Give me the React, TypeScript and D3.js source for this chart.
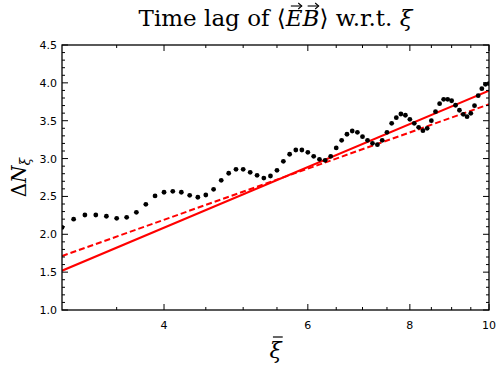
import React, { useLayoutEffect, useRef, useState } from "react";
import * as d3 from "d3";

const xiValues = [
  3.0, 3.1, 3.2, 3.3, 3.4, 3.5, 3.6, 3.7, 3.8, 3.9,
  4.0, 4.1, 4.2, 4.3, 4.4, 4.5, 4.6, 4.7, 4.8, 4.9,
  5.0, 5.1, 5.2, 5.3, 5.4, 5.5, 5.6, 5.7, 5.8, 5.9,
  6.0, 6.1, 6.2, 6.3, 6.4, 6.5, 6.6, 6.7, 6.8, 6.9,
  7.0, 7.1, 7.2, 7.3, 7.4, 7.5, 7.6, 7.7, 7.8, 7.9,
  8.0, 8.1, 8.2, 8.3, 8.4, 8.5, 8.6, 8.7, 8.8, 8.9,
  9.0, 9.1, 9.2, 9.3, 9.4, 9.5, 9.6, 9.7, 9.8, 9.9,
  10.0,
];
const lagValues = [
  2.09, 2.20, 2.255, 2.255, 2.238, 2.211, 2.224, 2.29, 2.396, 2.506,
  2.555, 2.568, 2.555, 2.515, 2.489, 2.519, 2.594, 2.713, 2.806, 2.858,
  2.858, 2.819, 2.779, 2.743, 2.77, 2.845, 2.964, 3.057, 3.113, 3.113,
  3.083, 3.03, 2.99, 2.977, 3.03, 3.14, 3.241, 3.321, 3.364, 3.347,
  3.289, 3.241, 3.202, 3.183, 3.241, 3.347, 3.466, 3.54, 3.589, 3.572,
  3.519, 3.466, 3.413, 3.368, 3.40, 3.50, 3.619, 3.725, 3.783, 3.783,
  3.764, 3.704, 3.638, 3.585, 3.553, 3.598, 3.698, 3.831, 3.923, 3.981,
  3.99,
];
// fit lines (endpoints)
const solidFitX = [3, 10];
const solidFitY = [1.519, 3.897];
const dashedFitX = [3, 10];
const dashedFitY = [1.713, 3.717];

const xMajorTicks = [4, 6, 8, 10];
const xMinorTicks = [3.5, 4.5, 5, 5.5, 6.5, 7, 7.5, 8.5, 9, 9.5];
const yMajorTicks = [1.0, 1.5, 2.0, 2.5, 3.0, 3.5, 4.0, 4.5];

const W = 498;
const H = 370;
const M = { left: 62, right: 9, top: 45, bottom: 60 };

type Box = { x: number; y: number; width: number; height: number };

export default function App() {
  const x = d3.scaleLog().domain([3, 10]).range([M.left, W - M.right]);
  const y = d3.scaleLinear().domain([1.0, 4.5]).range([H - M.bottom, M.top]);
  const yMinor = d3
    .range(10, 46)
    .map((v) => v / 10)
    .filter((v) => Math.abs(v * 2 - Math.round(v * 2)) > 1e-6);

  const line = d3
    .line<[number, number]>()
    .x((d) => x(d[0]))
    .y((d) => y(d[1]));
  const solid = solidFitX.map((v, i) => [v, solidFitY[i]] as [number, number]);
  const dashed = dashedFitX.map((v, i) => [v, dashedFitY[i]] as [number, number]);

  const x0 = M.left, x1 = W - M.right, y0 = H - M.bottom, y1 = M.top;
  const tickFont = "'DejaVu Sans', sans-serif";
  const serif = "'DejaVu Serif', serif";

  const titleRef = useRef<SVGTextElement>(null);
  const xlabRef = useRef<SVGTextElement>(null);
  const [arrows, setArrows] = useState<Box[]>([]);
  const [bar, setBar] = useState<Box | null>(null);

  useLayoutEffect(() => {
    const t = titleRef.current;
    if (t) {
      try {
        const e = t.getExtentOfChar(13);
        const b = t.getExtentOfChar(14);
        setArrows([
          { x: e.x, y: e.y, width: e.width, height: e.height },
          { x: b.x, y: b.y, width: b.width, height: b.height },
        ]);
      } catch (err) {}
    }
    const xl = xlabRef.current;
    if (xl) {
      const bb = xl.getBBox();
      setBar({ x: bb.x, y: bb.y, width: bb.width, height: bb.height });
    }
  }, []);

  const titleBase = 26;

  return (
    <svg width={W} height={H} style={{ position: "absolute", left: 0, top: 0 }}>
      <rect x={0} y={0} width={W} height={H} fill="#fff" />
      <defs>
        <clipPath id="plot">
          <rect x={x0} y={y1} width={x1 - x0} height={y0 - y1} />
        </clipPath>
      </defs>
      <g clipPath="url(#plot)">
        <path d={line(solid) || ""} stroke="#ff0000" strokeWidth={2} fill="none" />
        <path d={line(dashed) || ""} stroke="#ff0000" strokeWidth={2} fill="none" strokeDasharray="6,3" />
        {xiValues.map((v, i) => (
          <circle key={i} cx={x(v)} cy={y(lagValues[i])} r={2.4} fill="#000" />
        ))}
      </g>
      <g stroke="#000" strokeWidth={1}>
        {xMajorTicks.map((t) => (
          <g key={"xM" + t}>
            <line x1={x(t)} x2={x(t)} y1={y0} y2={y0 - 6} />
            <line x1={x(t)} x2={x(t)} y1={y1} y2={y1 + 6} />
          </g>
        ))}
        {xMinorTicks.map((t) => (
          <g key={"xm" + t}>
            <line x1={x(t)} x2={x(t)} y1={y0} y2={y0 - 3} />
            <line x1={x(t)} x2={x(t)} y1={y1} y2={y1 + 3} />
          </g>
        ))}
        {yMajorTicks.map((t) => (
          <g key={"yM" + t}>
            <line x1={x0} x2={x0 + 6} y1={y(t)} y2={y(t)} />
            <line x1={x1} x2={x1 - 6} y1={y(t)} y2={y(t)} />
          </g>
        ))}
        {yMinor.map((t) => (
          <g key={"ym" + t}>
            <line x1={x0} x2={x0 + 3} y1={y(t)} y2={y(t)} />
            <line x1={x1} x2={x1 - 3} y1={y(t)} y2={y(t)} />
          </g>
        ))}
      </g>
      <rect x={x0} y={y1} width={x1 - x0} height={y0 - y1} fill="none" stroke="#000" strokeWidth={1.3} />
      {xMajorTicks.map((t) => (
        <text key={"xl" + t} x={x(t)} y={y0 + 19} textAnchor="middle" fontFamily={tickFont} fontSize={11}>
          {t}
        </text>
      ))}
      {yMajorTicks.map((t) => (
        <text key={"yl" + t} x={x0 - 5} y={y(t) + 4} textAnchor="end" fontFamily={tickFont} fontSize={11}>
          {t.toFixed(1)}
        </text>
      ))}
      <text ref={titleRef} x={(x0 + x1) / 2} y={titleBase} textAnchor="middle" fontFamily={serif} fontSize={23}>
        {"Time lag of ⟨"}
        <tspan fontStyle="italic">{"EB"}</tspan>
        {"⟩ w.r.t. "}
        <tspan fontStyle="italic">ξ</tspan>
      </text>
      {arrows.map((a, i) => {
        const ay = titleBase - 20;
        const ax0 = a.x + a.width * 0.3;
        const ax1 = a.x + a.width * 0.95;
        return (
          <g key={"arr" + i} stroke="#000" strokeWidth={1.1} fill="none">
            <line x1={ax0} x2={ax1} y1={ay} y2={ay} />
            <path d={`M${ax1 - 3.5},${ay - 3} L${ax1},${ay} L${ax1 - 3.5},${ay + 3}`} />
          </g>
        );
      })}
      <text ref={xlabRef} x={(x0 + x1) / 2} y={358} textAnchor="middle" fontFamily={serif} fontSize={22} fontStyle="italic">
        ξ
      </text>
      {bar && (
        <line
          x1={bar.x + bar.width * 0.25}
          x2={bar.x + bar.width * 0.95}
          y1={337}
          y2={337}
          stroke="#000"
          strokeWidth={1.2}
        />
      )}
      <text transform={`translate(26, ${(y0 + y1) / 2}) rotate(-90)`} textAnchor="middle" fontFamily={serif} fontSize={20}>
        Δ<tspan fontStyle="italic">N</tspan>
        <tspan fontStyle="italic" fontSize={14} dy={4}>
          ξ
        </tspan>
      </text>
    </svg>
  );
}
